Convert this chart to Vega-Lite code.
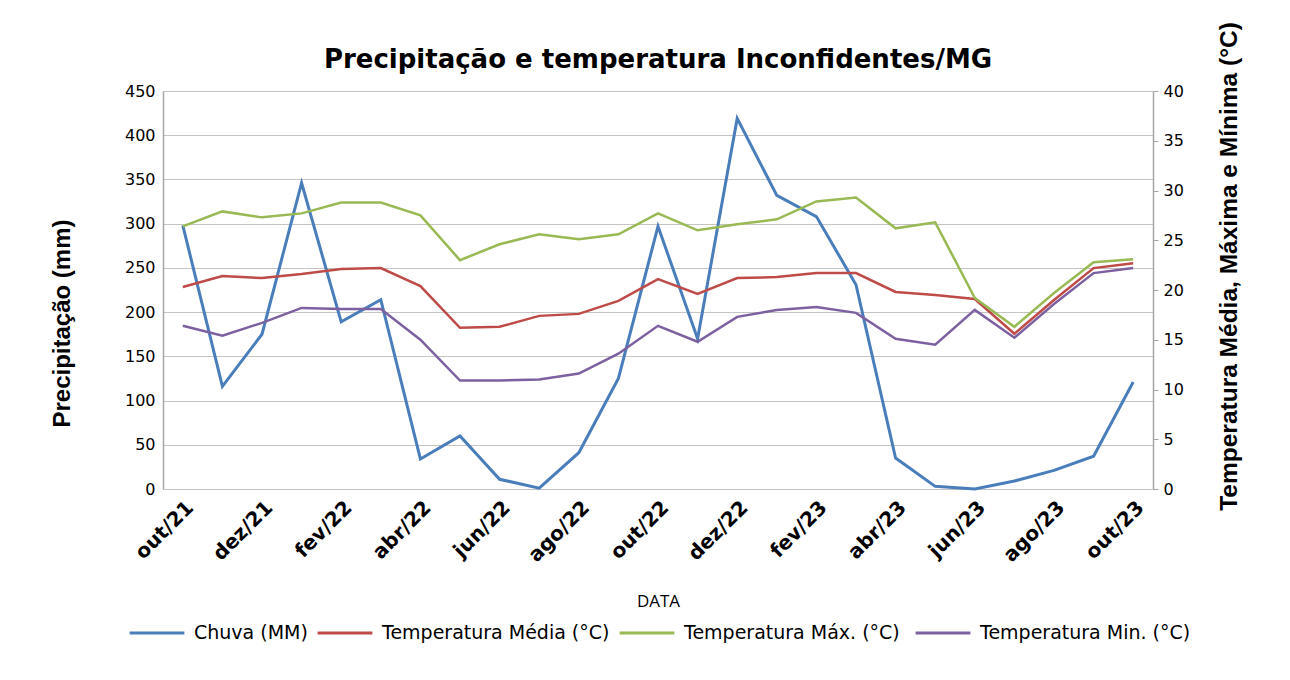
{
  "$schema": "https://vega.github.io/schema/vega-lite/v6.json",
  "width": 990,
  "height": 398,
  "autosize": {"type": "none"},
  "padding": {"left": 163, "top": 91, "right": 137, "bottom": 191},
  "background": "white",
  "title": {
    "text": "Precipitação e temperatura Inconfidentes/MG",
    "font": "DejaVu Sans",
    "fontSize": 26,
    "fontWeight": "bold",
    "color": "#000000",
    "anchor": "middle",
    "offset": -51
  },
  "config": {
    "view": {"stroke": null},
    "axis": {"labelColor": "#000000", "titleColor": "#000000"}
  },
  "data": {
    "values": [
      {"mes": "out/21", "chuva": 298, "tmed": 20.3, "tmax": 26.4, "tmin": 16.4},
      {"mes": "nov/21", "chuva": 116, "tmed": 21.4, "tmax": 27.9, "tmin": 15.4},
      {"mes": "dez/21", "chuva": 175, "tmed": 21.2, "tmax": 27.3, "tmin": 16.7},
      {"mes": "jan/22", "chuva": 346, "tmed": 21.6, "tmax": 27.7, "tmin": 18.2},
      {"mes": "fev/22", "chuva": 189, "tmed": 22.1, "tmax": 28.8, "tmin": 18.1},
      {"mes": "mar/22", "chuva": 214, "tmed": 22.2, "tmax": 28.8, "tmin": 18.1},
      {"mes": "abr/22", "chuva": 34, "tmed": 20.4, "tmax": 27.5, "tmin": 15.0},
      {"mes": "mai/22", "chuva": 60, "tmed": 16.2, "tmax": 23.0, "tmin": 10.9},
      {"mes": "jun/22", "chuva": 11, "tmed": 16.3, "tmax": 24.6, "tmin": 10.9},
      {"mes": "jul/22", "chuva": 1, "tmed": 17.4, "tmax": 25.6, "tmin": 11.0},
      {"mes": "ago/22", "chuva": 41, "tmed": 17.6, "tmax": 25.1, "tmin": 11.6},
      {"mes": "set/22", "chuva": 125, "tmed": 18.9, "tmax": 25.6, "tmin": 13.6},
      {"mes": "out/22", "chuva": 297, "tmed": 21.1, "tmax": 27.7, "tmin": 16.4},
      {"mes": "nov/22", "chuva": 170, "tmed": 19.6, "tmax": 26.0, "tmin": 14.8},
      {"mes": "dez/22", "chuva": 419, "tmed": 21.2, "tmax": 26.6, "tmin": 17.3},
      {"mes": "jan/23", "chuva": 332, "tmed": 21.3, "tmax": 27.1, "tmin": 18.0},
      {"mes": "fev/23", "chuva": 308, "tmed": 21.7, "tmax": 28.9, "tmin": 18.3},
      {"mes": "mar/23", "chuva": 231, "tmed": 21.7, "tmax": 29.3, "tmin": 17.7},
      {"mes": "abr/23", "chuva": 35, "tmed": 19.8, "tmax": 26.2, "tmin": 15.1},
      {"mes": "mai/23", "chuva": 3, "tmed": 19.5, "tmax": 26.8, "tmin": 14.5},
      {"mes": "jun/23", "chuva": 0, "tmed": 19.1, "tmax": 19.2, "tmin": 18.0},
      {"mes": "jul/23", "chuva": 9, "tmed": 15.6, "tmax": 16.3, "tmin": 15.2},
      {"mes": "ago/23", "chuva": 21, "tmed": 19.0, "tmax": 19.7, "tmin": 18.6},
      {"mes": "set/23", "chuva": 37, "tmed": 22.2, "tmax": 22.8, "tmin": 21.7},
      {"mes": "out/23", "chuva": 121, "tmed": 22.7, "tmax": 23.1, "tmin": 22.2}
    ]
  },
  "encoding": {
    "x": {
      "field": "mes",
      "type": "ordinal",
      "sort": ["out/21", "nov/21", "dez/21", "jan/22", "fev/22", "mar/22", "abr/22", "mai/22", "jun/22", "jul/22", "ago/22", "set/22", "out/22", "nov/22", "dez/22", "jan/23", "fev/23", "mar/23", "abr/23", "mai/23", "jun/23", "jul/23", "ago/23", "set/23", "out/23"],
      "scale": {"type": "point", "padding": 0.5},
      "axis": {
        "values": ["out/21", "dez/21", "fev/22", "abr/22", "jun/22", "ago/22", "out/22", "dez/22", "fev/23", "abr/23", "jun/23", "ago/23", "out/23"],
        "labelAngle": -45,
        "labelFont": "DejaVu Sans",
        "labelFontSize": 20,
        "labelFontWeight": "bold",
        "labelPadding": 8,
        "ticks": false,
        "domain": false,
        "grid": false,
        "title": "DATA",
        "titleFont": "Open Sans",
        "titleFontSize": 17,
        "titleFontWeight": "normal",
        "titlePadding": 28
      }
    }
  },
  "layer": [
    {
      "transform": [{"fold": ["chuva"], "as": ["serie", "valor"]}],
      "mark": {"type": "line", "strokeWidth": 3},
      "encoding": {
        "y": {
          "field": "valor",
          "type": "quantitative",
          "scale": {"domain": [0, 450]},
          "axis": {
            "orient": "left",
            "values": [0, 50, 100, 150, 200, 250, 300, 350, 400, 450],
            "title": "Precipitação (mm)",
            "titleFont": "Liberation Sans",
            "titleFontSize": 24,
            "titleFontWeight": "bold",
            "titlePadding": 50,
            "titleY": 232,
            "labelFont": "DejaVu Sans",
            "labelFontSize": 16,
            "labelPadding": 8,
            "ticks": false,
            "domain": true,
            "domainColor": "#a6a6a6",
            "domainWidth": 1.5,
            "grid": true,
            "gridColor": "#c4c4c4",
            "gridWidth": 1.2
          }
        },
        "color": {
          "field": "serie",
          "type": "nominal",
          "scale": {"domain": ["chuva", "tmed", "tmax", "tmin"], "range": ["#4a7ebb", "#be4b48", "#98b954", "#7d60a0"]},
          "legend": {
            "orient": "none",
            "legendX": -35,
            "legendY": 513,
            "direction": "horizontal",
            "title": null,
            "symbolType": "stroke",
            "symbolSize": 3000,
            "symbolStrokeWidth": 3,
            "labelFont": "DejaVu Sans",
            "labelFontSize": 19,
            "labelColor": "#000000",
            "labelOffset": 8,
            "columnPadding": 3,
            "labelLimit": 400,
            "labelExpr": "datum.value == 'chuva' ? 'Chuva (MM)' : datum.value == 'tmed' ? 'Temperatura Média (°C)' : datum.value == 'tmax' ? 'Temperatura  Máx. (°C)' : 'Temperatura Min. (°C)'"
          }
        }
      }
    },
    {
      "transform": [{"fold": ["tmed", "tmax", "tmin"], "as": ["serie", "valor"]}],
      "mark": {"type": "line", "strokeWidth": 2.5},
      "encoding": {
        "y": {
          "field": "valor",
          "type": "quantitative",
          "scale": {"domain": [0, 40]},
          "axis": {
            "orient": "right",
            "values": [0, 5, 10, 15, 20, 25, 30, 35, 40],
            "title": "Temperatura Média, Máxima e Mínima (°C)",
            "titleFont": "Liberation Sans",
            "titleFontSize": 24.5,
            "titleFontWeight": "bold",
            "titleAngle": 270,
            "titlePadding": 58,
            "titleY": 175,
            "labelFont": "DejaVu Sans",
            "labelFontSize": 16,
            "labelPadding": 5,
            "ticks": true,
            "tickSize": 5,
            "tickColor": "#a6a6a6",
            "domain": true,
            "domainColor": "#a6a6a6",
            "domainWidth": 1.5,
            "grid": false
          }
        },
        "color": {"field": "serie", "type": "nominal"}
      }
    }
  ],
  "resolve": {"scale": {"y": "independent"}}
}
